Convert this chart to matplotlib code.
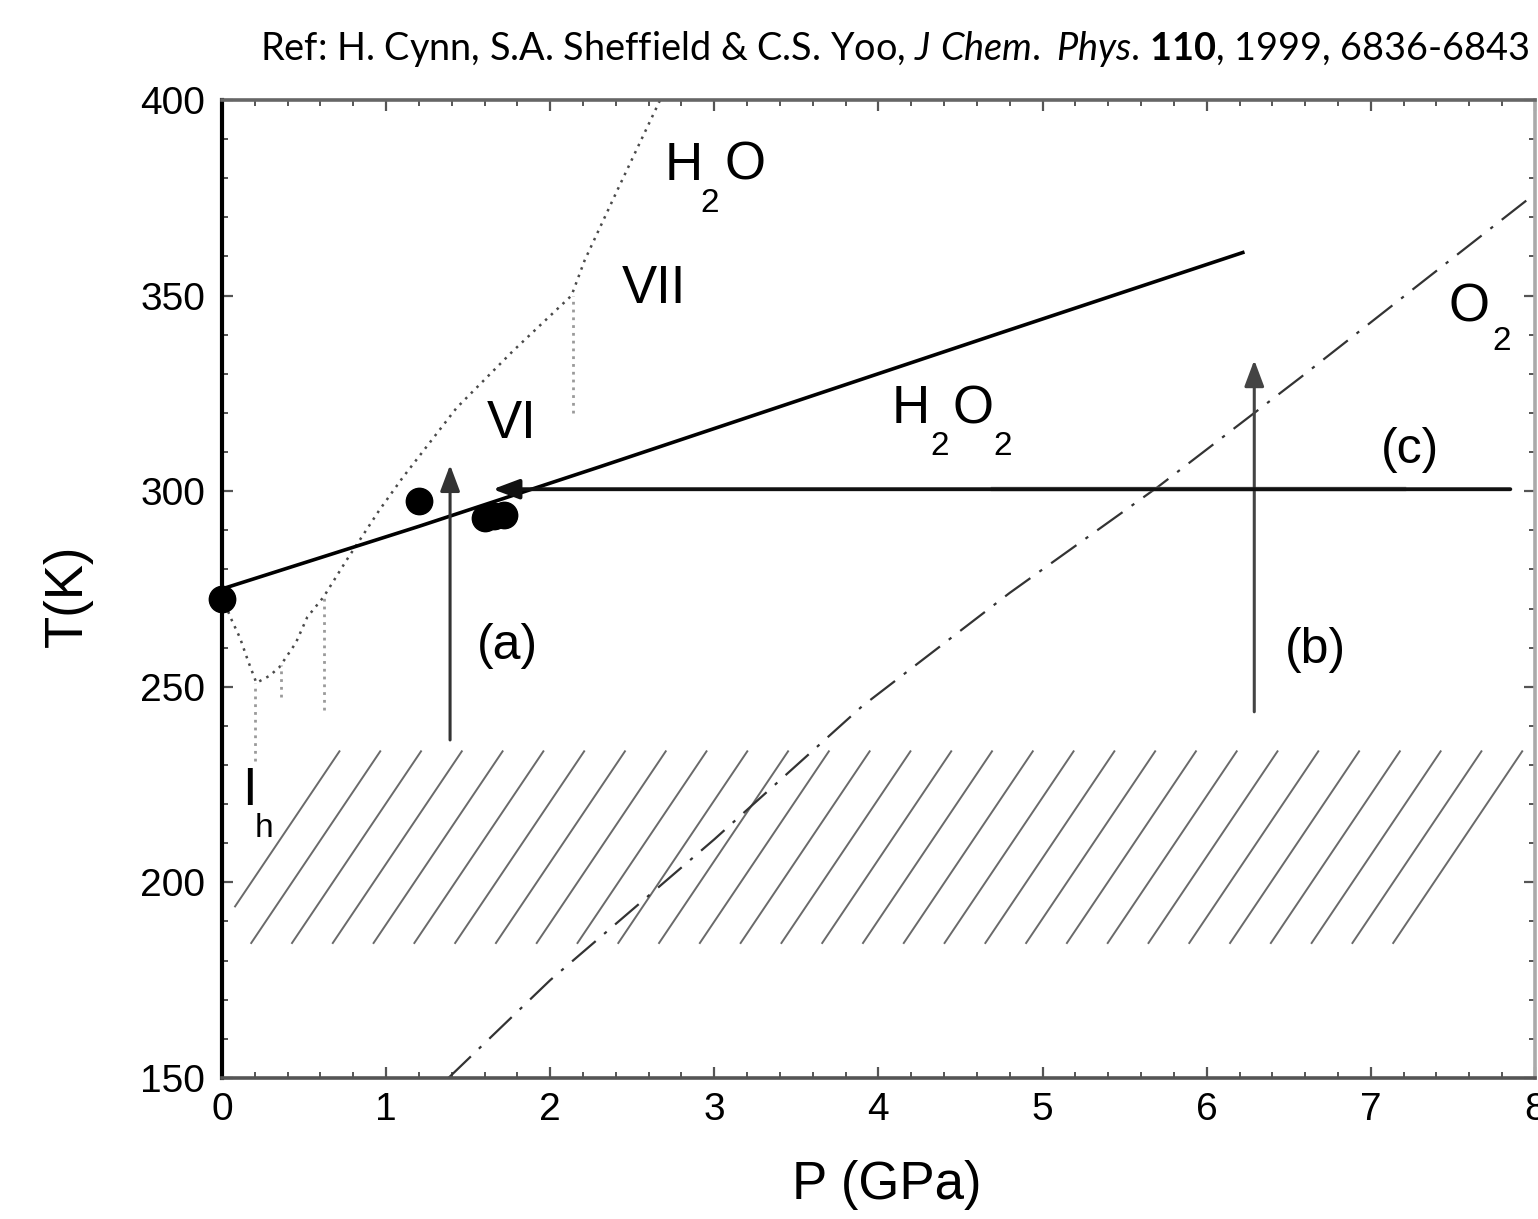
import matplotlib
matplotlib.use('Agg')
import matplotlib.pyplot as plt
import numpy as np
from matplotlib.ticker import MultipleLocator

# values (P in GPa, T in K)
# H2O2 melting line
h2o2_P = [0.0, 1.2, 2.3, 4.74, 6.22]
h2o2_T = [275.0, 291.0, 306.2, 340.4, 361.0]

# measured melting points
dots_P = [0.0, 1.2, 1.6, 1.66, 1.72]
dots_T = [272.5, 297.5, 293.2, 293.6, 294.0]

# O2 melting line
o2_P = [1.38, 2.0, 3.0, 3.9, 4.8, 5.7, 6.57, 7.36, 8.0]
o2_T = [150.0, 175.0, 211.0, 245.0, 274.0, 301.0, 329.0, 355.0, 376.0]

# H2O melting line (Ih, III, V, VI, VII)
h2o_P = [0.0, 0.06, 0.11, 0.16, 0.21, 0.29, 0.35, 0.45, 0.52, 0.62,
         0.76, 0.96, 1.10, 1.43, 1.77, 2.13, 2.21, 2.41, 2.67]
h2o_T = [273.0, 267.0, 262.5, 256.5, 251.0, 252.8, 255.0, 261.2, 267.8, 273.0,
         282.4, 295.2, 303.4, 321.3, 335.7, 350.0, 359.0, 377.0, 400.0]

# solid-solid boundaries of ice (vertical dotted pieces)
ice_P = [0.2, 0.36, 0.62, 2.14]
ice_T_top = [251.0, 255.5, 273.0, 350.0]
ice_T_bot = [231.0, 247.5, 244.0, 320.0]

# compression / heating paths
arrow_a = {'P': [1.39, 1.39], 'T': [236.4, 306.7]}
arrow_b = {'P': [6.29, 6.29], 'T': [243.6, 333.5]}
arrow_c = {'P': [7.85, 1.65], 'T': [300.5, 300.5]}
c_faded_P = [4.7, 7.2]

# hatched band (T range, line spacing and lean in GPa)
hatch_T = [184.5, 233.5]
hatch_start = -0.07
hatch_step = 0.2485
hatch_lean = 0.786
hatch_left = 0.08
hatch_count = 30

plt.rcParams['font.family'] = 'Liberation Sans'
plt.rcParams['mathtext.fontset'] = 'custom'
plt.rcParams['mathtext.rm'] = 'Lato'
plt.rcParams['mathtext.it'] = 'Lato:italic'
plt.rcParams['mathtext.bf'] = 'Lato:bold'

fig = plt.figure(figsize=(15.38, 12.19), dpi=100)
ax = fig.add_axes([0.1443, 0.1157, 0.8537, 0.8023])
ax.set_xlim(0, 8)
ax.set_ylim(150, 400)

# hatch lines
for b in hatch_start + hatch_step * np.arange(hatch_count):
    p0, t0 = b, hatch_T[0]
    p1, t1 = b + hatch_lean, hatch_T[1]
    if p0 < hatch_left:
        t0 = t0 + (hatch_left - p0) / hatch_lean * (t1 - t0)
        p0 = hatch_left
    ax.plot([p0, p1], [t0, t1], color='#6a6a6a', lw=1.4)

# water phase lines
ax.plot(h2o_P, h2o_T, color='#4a4a4a', lw=1.8, linestyle=(0, (1, 2.2)))
for p, t1, t0 in zip(ice_P, ice_T_top, ice_T_bot):
    ax.plot([p, p], [t0, t1], color='#9a9a9a', lw=2.0, linestyle=(0, (1, 1.8)))

# O2 melting line
o2_line, = ax.plot(o2_P, o2_T, color='#333333', lw=1.6)
o2_line.set_dashes((14, 5, 1.5, 5))

# H2O2 melting line and points
ax.plot(h2o2_P, h2o2_T, color='black', lw=2.6)
ax.plot(dots_P, dots_T, 'o', color='black', ms=19, clip_on=False, zorder=5)

# arrows
head = '-|>,head_length=0.8,head_width=0.3'
for arr, col, lw in [(arrow_a, '#333333', 2.2), (arrow_b, '#444444', 2.2),
                     (arrow_c, '#111111', 2.8)]:
    ax.annotate('', xy=(arr['P'][1], arr['T'][1]), xytext=(arr['P'][0], arr['T'][0]),
                arrowprops=dict(arrowstyle=head, color=col, lw=lw,
                                shrinkA=0, shrinkB=0, mutation_scale=20))
ax.plot(c_faded_P, [arrow_c['T'][0]] * 2, color='#a0a0a0', lw=3.2)

# labels inside the plot
big, sub = 38, 24
ax.text(2.70, 379.6, 'H', fontsize=big)
ax.text(2.913, 371.4, '2', fontsize=sub)
ax.text(3.065, 379.6, 'O', fontsize=big)
ax.text(2.437, 348.1, 'VII', fontsize=big)
ax.text(1.615, 313.6, 'VI', fontsize=big)
ax.text(4.083, 317.4, 'H', fontsize=big)
ax.text(4.314, 309.3, '2', fontsize=sub)
ax.text(4.449, 317.4, 'O', fontsize=big)
ax.text(4.698, 309.3, '2', fontsize=sub)
ax.text(7.471, 343.3, 'O', fontsize=big)
ax.text(7.739, 336.1, '2', fontsize=sub)
ax.text(0.122, 219.8, 'I', fontsize=big)
ax.text(0.201, 211.6, 'h', fontsize=sub)
ax.text(1.74, 260.4, '(a)', fontsize=36, ha='center', va='center')
ax.text(6.66, 259.4, '(b)', fontsize=36, ha='center', va='center')
ax.text(7.24, 310.5, '(c)', fontsize=36, ha='center', va='center')

# axes styling
ax.xaxis.set_major_locator(MultipleLocator(1))
ax.xaxis.set_minor_locator(MultipleLocator(0.2))
ax.yaxis.set_major_locator(MultipleLocator(50))
ax.yaxis.set_minor_locator(MultipleLocator(10))
ax.tick_params(which='both', direction='in', top=True, right=True,
               color='#555555', labelsize=28)
ax.tick_params(which='major', length=8, width=1.6)
ax.tick_params(which='minor', length=4, width=1.4)
ax.tick_params(axis='x', pad=10)
ax.tick_params(axis='y', pad=12)
ax.spines['left'].set_color('black')
ax.spines['left'].set_linewidth(3)
ax.spines['bottom'].set_color('#555555')
ax.spines['bottom'].set_linewidth(2.6)
ax.spines['top'].set_color('#666666')
ax.spines['top'].set_linewidth(2.6)
ax.spines['right'].set_color('#aaaaaa')
ax.spines['right'].set_linewidth(2.6)

fig.text(68 / 1538, 1 - 596 / 1219, 'T(K)', rotation=90, fontsize=38,
         ha='center', va='center')
fig.text(887 / 1538, 1 - 1185 / 1219, 'P (GPa)', fontsize=38,
         ha='center', va='center')

fig.text(1530 / 1538, 1 - 60 / 1219,
         r'Ref: H. Cynn, S.A. Sheffield & C.S. Yoo, $\mathit{J\ Chem.}$ $\mathit{Phys}$. '
         r'$\mathbf{110}$, 1999, 6836-6843',
         family='Lato', fontsize=27.3, ha='right', va='baseline')

fig.savefig('out.png', dpi=100)
